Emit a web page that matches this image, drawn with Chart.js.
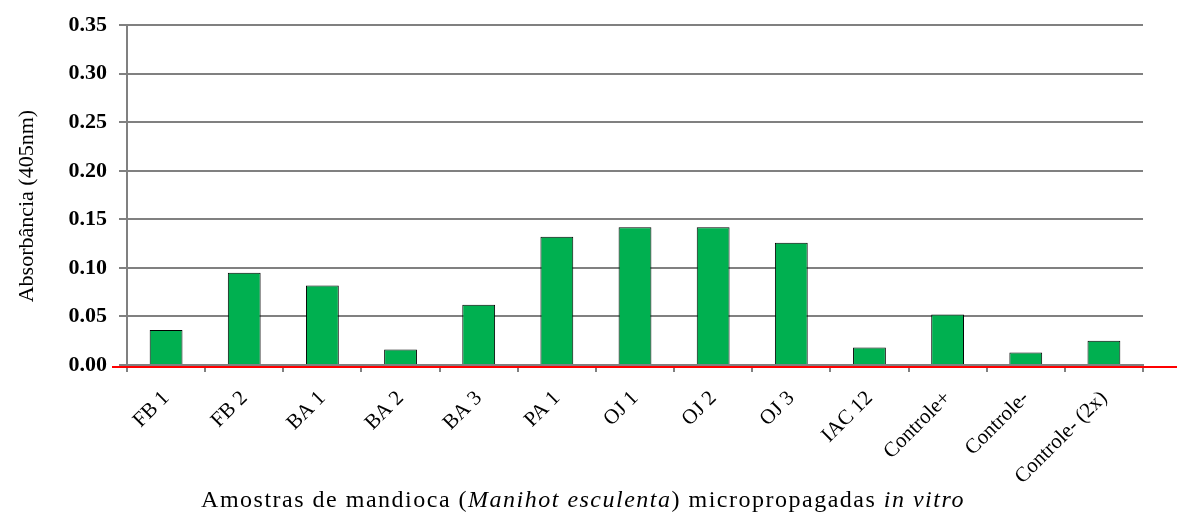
<!DOCTYPE html>
<html lang="pt">
<head>
  <meta charset="UTF-8">
  <title>Absorbância</title>
  <style>
    body { margin: 0; background: #fff; }
    #wrap { position: relative; width: 1177px; height: 517px; }
    #xtitle {
      position: absolute; left: 127px; width: 912px; top: 486px;
      text-align: center; font-family: "Liberation Serif", serif; font-size: 24px;
      letter-spacing: 1.5px; color: #000; white-space: nowrap;
    }
  </style>
</head>
<body>
  <div id="wrap">
    <canvas id="graphic" width="1177" height="517"></canvas>
    <div id="xtitle">Amostras de mandioca (<i>Manihot esculenta</i>) micropropagadas <i>in vitro</i></div>
  </div>

  <script src="https://cdn.jsdelivr.net/npm/chart.js"></script>
  <script>
    const amostras = ["FB 1", "FB 2", "BA 1", "BA 2", "BA 3", "PA 1", "OJ 1", "OJ 2", "OJ 3", "IAC 12", "Controle+", "Controle-", "Controle- (2x)"];
    const absorbancia = [0.036, 0.095, 0.082, 0.016, 0.062, 0.132, 0.142, 0.142, 0.126, 0.018, 0.052, 0.013, 0.025];
    const yMin = 0, yMax = 0.35, yPasso = 0.05;

    // linha vermelha abaixo do eixo x
    const linhaVermelha = {
      id: 'linhaVermelha',
      afterDraw(chart) {
        const { ctx, chartArea } = chart;
        ctx.save();
        ctx.strokeStyle = '#ff0000';
        ctx.lineWidth = 2;
        ctx.beginPath();
        ctx.moveTo(chartArea.left - 15, chartArea.bottom + 2);
        ctx.lineTo(chart.width, chartArea.bottom + 2);
        ctx.stroke();
        ctx.restore();
      }
    };

    const lienzo = document.getElementById("graphic");
    new Chart(lienzo, {
      type: 'bar',
      data: {
        labels: amostras,
        datasets: [{
          data: absorbancia,
          backgroundColor: '#00b050',
          borderColor: '#000',
          borderWidth: 1,
          barPercentage: 0.42,
          categoryPercentage: 1
        }]
      },
      options: {
        responsive: false,
        animation: false,
        layout: { padding: { top: 20, right: 34, left: 0, bottom: 0 } },
        plugins: { legend: { display: false }, tooltip: { enabled: false } },
        scales: {
          x: {
            grid: { drawOnChartArea: false, drawTicks: true, tickLength: 7, color: '#808080', lineWidth: 2 },
            border: { color: '#808080', width: 2 },
            ticks: {
              color: '#000', maxRotation: 45, minRotation: 45, padding: 14,
              font: { family: 'Liberation Serif', size: 21 }
            },
            afterFit(scale) { scale.height = 152; }
          },
          y: {
            min: yMin, max: yMax,
            grid: { color: '#808080', lineWidth: 2, tickLength: 8 },
            border: { color: '#808080', width: 2 },
            ticks: {
              stepSize: yPasso, color: '#000', padding: 12,
              font: { family: 'Liberation Serif', size: 22, weight: 'bold' },
              callback: v => v.toFixed(2)
            },
            title: {
              display: true, text: 'Absorbância (405nm)    ', color: '#000',
              font: { family: 'Liberation Serif', size: 22 }, padding: { top: 14 }
            },
            afterFit(scale) { scale.width = 127; }
          }
        }
      },
      plugins: [linhaVermelha]
    });
  </script>
</body>
</html>
